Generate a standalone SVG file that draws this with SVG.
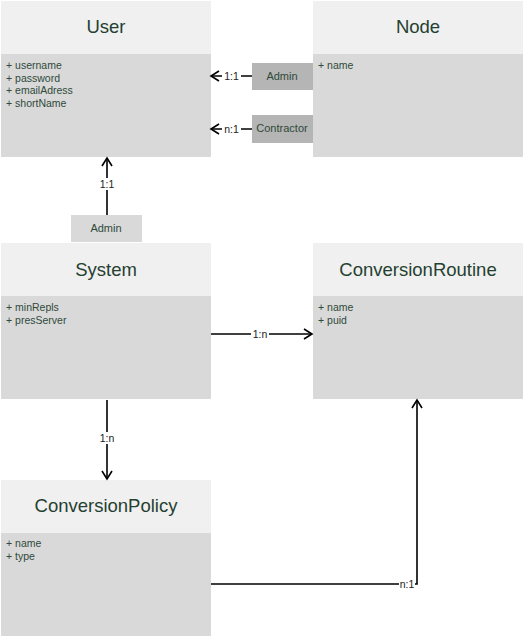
<svg xmlns="http://www.w3.org/2000/svg" width="523" height="637" viewBox="0 0 523 637">
<style>
.hd{fill:#f0f0f0}
.bd{fill:#d9d9d9}
.title{font-family:"Liberation Sans",Arial,sans-serif;font-size:18.5px;fill:#253f30;text-anchor:middle}
.attr{font-family:"Liberation Sans",Arial,sans-serif;font-size:10.5px;fill:#2f4a3a}
.role{font-family:"Liberation Sans",Arial,sans-serif;font-size:11px;fill:#2f4a3a;text-anchor:middle}
.lbl{font-family:"Liberation Sans",Arial,sans-serif;font-size:10.5px;fill:#222;text-anchor:middle}
.ln{stroke:#000;stroke-width:1.6;fill:none}
.lb{fill:#fff}
</style>
<defs>
<marker id="ah" viewBox="-10 -6 12 12" markerWidth="12" markerHeight="12" refX="0" refY="0" orient="auto" markerUnits="userSpaceOnUse">
<path d="M-8,-5 L0,0 L-8,5" fill="none" stroke="#000" stroke-width="1.6"/>
</marker>
</defs>
<g id="User">
<rect class="hd" x="1" y="1" width="210" height="53"/>
<rect class="bd" x="1" y="54" width="210" height="103"/>
<text class="title" x="106" y="33">User</text>
<text class="attr" x="6" y="69">+ username</text>
<text class="attr" x="6" y="81.5">+ password</text>
<text class="attr" x="6" y="94">+ emailAdress</text>
<text class="attr" x="6" y="106.5">+ shortName</text>
</g>
<g id="Node">
<rect class="hd" x="313" y="1" width="210" height="53"/>
<rect class="bd" x="313" y="54" width="210" height="103"/>
<text class="title" x="418" y="33">Node</text>
<text class="attr" x="318" y="69">+ name</text>
</g>
<g id="System">
<rect class="hd" x="1" y="243" width="210" height="53"/>
<rect class="bd" x="1" y="296" width="210" height="103"/>
<text class="title" x="106" y="276">System</text>
<text class="attr" x="6" y="311">+ minRepls</text>
<text class="attr" x="6" y="323.5">+ presServer</text>
</g>
<g id="ConversionRoutine">
<rect class="hd" x="313" y="243" width="210" height="53"/>
<rect class="bd" x="313" y="296" width="210" height="103"/>
<text class="title" x="418" y="276">ConversionRoutine</text>
<text class="attr" x="318" y="311">+ name</text>
<text class="attr" x="318" y="323.5">+ puid</text>
</g>
<g id="ConversionPolicy">
<rect class="hd" x="1" y="480" width="210" height="53"/>
<rect class="bd" x="1" y="533" width="210" height="103"/>
<text class="title" x="106" y="512">ConversionPolicy</text>
<text class="attr" x="6" y="547">+ name</text>
<text class="attr" x="6" y="559.5">+ type</text>
</g>
<g id="AdminNode">
<rect x="252" y="63" width="61" height="27" fill="#b5b5b5"/>
<text class="role" x="282" y="80">Admin</text>
</g>
<g id="ContractorNode">
<rect x="252" y="115" width="61" height="28" fill="#b5b5b5"/>
<text class="role" x="282" y="132">Contractor</text>
</g>
<g id="AdminSystem">
<rect x="71" y="215" width="71" height="27" fill="#d9d9d9"/>
<text class="role" x="106" y="232">Admin</text>
</g>
<g id="connectors">
<line class="ln" x1="252" y1="76" x2="211" y2="76" marker-end="url(#ah)"/>
<rect class="lb" x="222" y="70" width="19" height="12"/>
<text class="lbl" x="231.5" y="80">1:1</text>
<line class="ln" x1="252" y1="129" x2="211" y2="129" marker-end="url(#ah)"/>
<rect class="lb" x="222" y="123" width="19" height="12"/>
<text class="lbl" x="231.5" y="133">n:1</text>
<line class="ln" x1="107" y1="215" x2="107" y2="158" marker-end="url(#ah)"/>
<rect class="lb" x="98" y="178" width="18" height="12"/>
<text class="lbl" x="107" y="188">1:1</text>
<line class="ln" x1="211" y1="334" x2="312" y2="334" marker-end="url(#ah)"/>
<rect class="lb" x="251" y="328" width="18" height="12"/>
<text class="lbl" x="260" y="338">1:n</text>
<line class="ln" x1="107" y1="400" x2="107" y2="479" marker-end="url(#ah)"/>
<rect class="lb" x="98" y="432" width="18" height="12"/>
<text class="lbl" x="107" y="442">1:n</text>
<polyline class="ln" points="211,584 417,584 417,400" marker-end="url(#ah)"/>
<rect class="lb" x="399" y="578" width="16" height="12"/>
<text class="lbl" x="407" y="588">n:1</text>
</g>
</svg>
